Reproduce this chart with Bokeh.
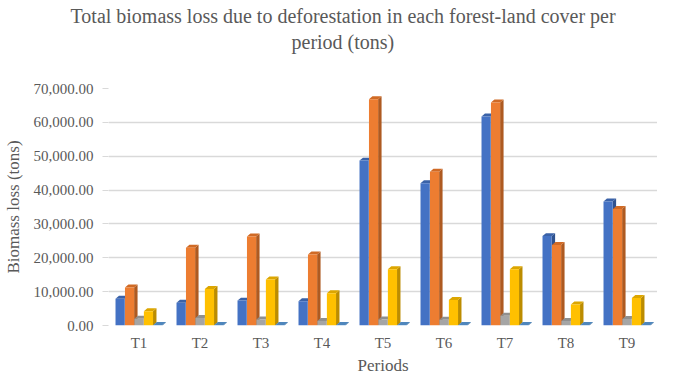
from bokeh.plotting import figure
from bokeh.models import Range1d, FixedTicker, NumeralTickFormatter, Title, ColumnDataSource
from bokeh.embed import file_html
from bokeh.resources import INLINE

periods = ["T1", "T2", "T3", "T4", "T5", "T6", "T7", "T8", "T9"]
series_a = [7900, 6700, 7350, 7150, 48700, 42000, 61700, 26400, 36600]   # blue
series_b = [11200, 23000, 26300, 21000, 66800, 45400, 65900, 23800, 34400]  # orange
series_c = [2000, 2200, 1800, 1300, 1800, 1700, 2850, 1300, 1900]  # gray
series_d = [4200, 10800, 13600, 9500, 16600, 7550, 16600, 6200, 8100]  # yellow
series_e = [120, 120, 120, 120, 120, 120, 120, 120, 120]  # light blue
y_ticks = [0, 10000, 20000, 30000, 40000, 50000, 60000, 70000]
title_lines = ["Total biomass loss due to deforestation in each forest-land cover per",
               "period (tons)"]

all_series = [series_a, series_b, series_c, series_d, series_e]
front_colors = ["#4472C4", "#ED7D31", "#A5A5A5", "#FFC000", "#5B9BD5"]
side_colors = ["#2F528F", "#AE5A21", "#7B7B7B", "#BC8C00", "#41719C"]
top_colors = ["#3A62A8", "#D06A25", "#8F8F8F", "#DCA600", "#4F86BC"]

FONT = "Liberation Serif"
GREY = "#595959"

p = figure(width=657, height=377, output_backend="svg", toolbar_location=None,
           x_range=Range1d(-0.5, 8.5), y_range=Range1d(0, 70000),
           min_border_left=99, min_border_right=0, min_border_top=10, min_border_bottom=0)
p.outline_line_color = None
p.background_fill_color = "white"

bar_w = 0.15
step = 0.155
dx = 3.5 / 62.0
dy = 3.0 / 34.0 * 10000

for k, vals in enumerate(all_series):
    off = (k - 2) * step
    xs = [i + off for i in range(len(periods))]
    src = ColumnDataSource(dict(x=xs, top=vals))
    side_x, side_y, top_x, top_y = [], [], [], []
    for x, v in zip(xs, vals):
        r = x + bar_w / 2
        l = x - bar_w / 2
        side_x.append([r, r + dx, r + dx, r])
        side_y.append([0, dy, v + dy, v])
        top_x.append([l, r, r + dx, l + dx])
        top_y.append([v, v, v + dy, v + dy])
    p.patches(side_x, side_y, fill_color=side_colors[k], line_color=None)
    p.patches(top_x, top_y, fill_color=top_colors[k], line_color=None)
    p.vbar(x="x", top="top", bottom=0, width=bar_w, source=src,
           fill_color=front_colors[k], line_color=None)

# axes
p.xaxis.ticker = FixedTicker(ticks=list(range(len(periods))))
p.xaxis.major_label_overrides = {i: t for i, t in enumerate(periods)}
p.xaxis.axis_line_color = None
p.xaxis.major_tick_line_color = None
p.xaxis.major_tick_out = 0
p.xaxis.major_tick_in = 0
p.xaxis.minor_tick_line_color = None
p.xaxis.major_label_standoff = 9
p.xaxis.major_label_text_font = FONT
p.xaxis.major_label_text_font_size = "15px"
p.xaxis.major_label_text_color = GREY
p.xaxis.axis_label = "Periods"
p.xaxis.axis_label_text_font = FONT
p.xaxis.axis_label_text_font_size = "17px"
p.xaxis.axis_label_text_font_style = "normal"
p.xaxis.axis_label_text_color = GREY
p.xaxis.axis_label_standoff = 2
p.xgrid.grid_line_color = None

p.yaxis.ticker = FixedTicker(ticks=y_ticks)
p.yaxis.formatter = NumeralTickFormatter(format="0,0.00")
p.yaxis.axis_line_color = None
p.yaxis.major_tick_line_color = "#D9D9D9"
p.yaxis.major_tick_out = 6
p.yaxis.major_tick_in = 0
p.yaxis.minor_tick_line_color = None
p.yaxis.major_label_standoff = 9
p.yaxis.major_label_text_font = FONT
p.yaxis.major_label_text_font_size = "15px"
p.yaxis.major_label_text_color = GREY
p.yaxis.axis_label = "Biomass loss (tons)"
p.yaxis.axis_label_text_font = FONT
p.yaxis.axis_label_text_font_size = "17px"
p.yaxis.axis_label_text_font_style = "normal"
p.yaxis.axis_label_text_color = GREY
p.yaxis.axis_label_standoff = 8
p.ygrid.grid_line_color = "#D9D9D9"
p.ygrid.grid_line_width = 1.5

# spacer between title and plot area, then the two title lines
p.add_layout(Title(text=" ", text_font_size="1px", standoff=33), "above")
p.add_layout(Title(text=title_lines[1], align="left", offset=183, text_font=FONT,
                   text_font_size="20px", text_font_style="normal", text_color=GREY,
                   standoff=0), "above")
p.add_layout(Title(text=title_lines[0], align="left", offset=-38, text_font=FONT,
                   text_font_size="20px", text_font_style="normal", text_color=GREY,
                   standoff=4), "above")

open("out.html", "w").write(file_html(p, INLINE))
